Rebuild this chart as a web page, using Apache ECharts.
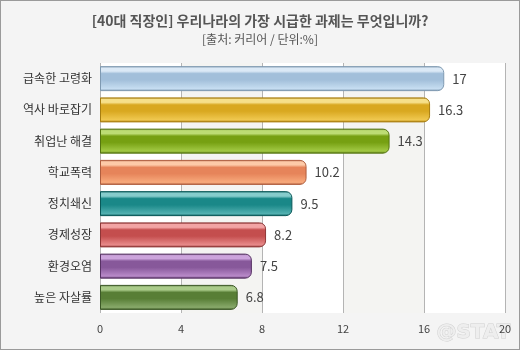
<!DOCTYPE html>
<html>
<head>
<meta charset="utf-8">
<script src="https://cdn.jsdelivr.net/npm/echarts@6/dist/echarts.min.js"></script>
<style>
  html, body { margin: 0; padding: 0; background: #f4f4f4; }
  #chart { width: 518px; height: 348px; border: 1px solid #9a9a9a; background: #f4f4f4; }
</style>
</head>
<body>
<div id="chart"></div>
<script>
const categories = ['급속한 고령화', '역사 바로잡기', '취업난 해결', '학교폭력', '정치쇄신', '경제성장', '환경오염', '높은 자살률'];
const values = [17, 16.3, 14.3, 10.2, 9.5, 8.2, 7.5, 6.8];
const tickValues = [0, 4, 8, 12, 16, 20];

// glossy palette per bar: [edge, highlight, middle, lower]
const palette = [
  ['#7f9ab2', '#dbe9f6', '#a2bfda', '#c6ddf1'],
  ['#a87e10', '#f6e08a', '#d9a820', '#f0c850'],
  ['#557510', '#bcdc74', '#76a012', '#a2c944'],
  ['#b05e3e', '#fdcaa8', '#e6845a', '#f8aa7c'],
  ['#0a5858', '#86cccc', '#1a8888', '#52b0b0'],
  ['#8e3636', '#f2a4a4', '#c44e4e', '#e88a8a'],
  ['#573264', '#cca4dc', '#87589a', '#b98ac9'],
  ['#3c5826', '#aacb8a', '#587e36', '#88a96a']
];

function gloss(p) {
  return new echarts.graphic.LinearGradient(0, 0, 0, 1, [
    { offset: 0, color: p[0] },
    { offset: 0.08, color: p[1] },
    { offset: 0.2, color: p[1] },
    { offset: 0.3, color: p[2] },
    { offset: 0.55, color: p[2] },
    { offset: 0.9, color: p[3] },
    { offset: 1, color: p[0] }
  ]);
}

const chart = echarts.init(document.getElementById('chart'));
const font = '"Noto Sans CJK KR", "Noto Sans", sans-serif';

chart.setOption({
  animation: false,
  textStyle: { fontFamily: font },
  title: {
    text: '[40대 직장인] 우리나라의 가장 시급한 과제는 무엇입니까?',
    subtext: '[출처: 커리어 / 단위:%]',
    left: 'center',
    top: 8,
    itemGap: 5,
    textStyle: { fontFamily: font, fontSize: 14, fontWeight: 'bold', color: '#555555' },
    subtextStyle: { fontFamily: font, fontSize: 12, color: '#555555' }
  },
  grid: { left: 99, right: 14, top: 62, bottom: 36, containLabel: false },
  xAxis: {
    type: 'value',
    min: 0,
    max: 20,
    interval: 4,
    axisLine: { show: false },
    axisTick: { show: false },
    axisLabel: {
      color: '#444444', fontSize: 11, margin: 10,
      formatter: v => tickValues.includes(v) ? String(v) : ''
    },
    splitLine: { show: true, lineStyle: { color: '#b4b4b4', width: 1 } },
    splitArea: { show: true, areaStyle: { color: ['#ffffff', '#f4f4f2'] } }
  },
  yAxis: {
    type: 'category',
    data: categories,
    inverse: true,
    axisLine: { show: false },
    axisTick: { show: false },
    axisLabel: { color: '#333333', fontSize: 12, margin: 8 }
  },
  series: [{
    type: 'bar',
    barWidth: 25,
    data: values.map((v, i) => ({
      value: v,
      itemStyle: {
        color: gloss(palette[i]),
        borderColor: palette[i][0],
        borderWidth: 1,
        borderRadius: [0, 6, 6, 0]
      }
    })),
    label: {
      show: true,
      position: 'right',
      distance: 8,
      color: '#444444',
      fontSize: 13,
      fontFamily: font
    }
  }],
  graphic: [{
    type: 'text',
    right: 8,
    bottom: 6,
    style: {
      text: '@STAT',
      font: 'bold 20px "DejaVu Sans", sans-serif',
      fill: '#eeeeee',
      stroke: '#d0d0d0',
      lineWidth: 1
    }
  }]
});
</script>
</body>
</html>
